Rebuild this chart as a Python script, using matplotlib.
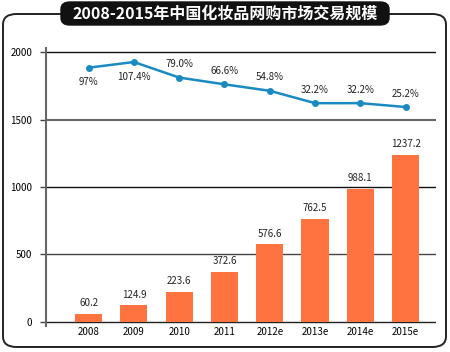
import matplotlib
matplotlib.use("Agg")
import matplotlib.pyplot as plt
from matplotlib.patches import FancyBboxPatch

plt.rcParams['font.family'] = ['Noto Sans CJK SC', 'DejaVu Sans']

categories = ['2008', '2009', '2010', '2011', '2012e', '2013e', '2014e', '2015e']
sales = [60.2, 124.9, 223.6, 372.6, 576.6, 762.5, 988.1, 1237.2]
growth = [97.0, 107.4, 79.0, 66.6, 54.8, 32.2, 32.2, 25.2]
growth_labels = ['97%', '107.4%', '79.0%', '66.6%', '54.8%', '32.2%', '32.2%', '25.2%']
title = '2008-2015年中国化妆品网购市场交易规模'

W, H = 450, 352
fig = plt.figure(figsize=(W / 100, H / 100), dpi=100)

# outer rounded frame
frame = FancyBboxPatch((3 / W, 5 / H), 443 / W, 333 / H,
                       boxstyle="round,pad=0,rounding_size=0.03",
                       transform=fig.transFigure, fill=False,
                       edgecolor='#222222', linewidth=1.4)
fig.patches.append(frame)

ax = fig.add_axes([46 / W, 26 / H, 390 / W, 278 / H])
x = list(range(len(categories)))
ax.bar(x, sales, width=0.6, color='#ff7340', zorder=3)
for xi, v in zip(x, sales):
    ax.annotate(f'{v:.1f}', (xi, v), xytext=(0, 4), textcoords='offset points',
                ha='center', va='bottom', fontsize=7, color='#222222')

ax.set_xlim(-0.94, 7.67)
ax.set_ylim(-30, 2030)
for yv, c, lw in [(0, '#222222', 1.0), (500, '#444444', 1.0), (1000, '#111111', 1.0),
                  (1500, '#666666', 1.5), (2000, '#111111', 1.0)]:
    ax.axhline(yv, color=c, linewidth=lw, zorder=2)
ax.set_yticks([0, 500, 1000, 1500, 2000])
ax.set_xticks(x)
ax.set_xticklabels(categories)
ax.tick_params(axis='x', length=0, labelsize=7, pad=1)
ax.tick_params(axis='y', length=4, labelsize=7, color='#444444', width=1.0, pad=6)
for s in ['top', 'right', 'bottom']:
    ax.spines[s].set_visible(False)
ax.spines['left'].set_color('#666666')
ax.spines['left'].set_linewidth(1.5)

ax2 = ax.twinx()
ax2.set_ylim(-375, 133)
ax2.plot(x, growth, color='#1a8bc2', linewidth=1.8, marker='o', markersize=4, zorder=4)
for i, (xi, v, lab) in enumerate(zip(x, growth, growth_labels)):
    if i < 2:
        ax2.annotate(lab, (xi, v), xytext=(0, -7), textcoords='offset points',
                     ha='center', va='top', fontsize=7, color='#222222')
    else:
        ax2.annotate(lab, (xi, v), xytext=(0, 6), textcoords='offset points',
                     ha='center', va='bottom', fontsize=7, color='#222222')
ax2.set_yticks([])
for s in ax2.spines.values():
    s.set_visible(False)

# title box
tb = FancyBboxPatch((61 / W, (H - 25) / H), 328 / W, 23 / H,
                    boxstyle="round,pad=0,rounding_size=0.02",
                    transform=fig.transFigure, facecolor='#111111',
                    edgecolor='#111111', linewidth=1)
fig.patches.append(tb)
fig.text(225 / W, (H - 13.5) / H, title, ha='center', va='center',
         color='white', fontsize=11.5, fontweight='bold')

fig.savefig('out.png', dpi=100)
